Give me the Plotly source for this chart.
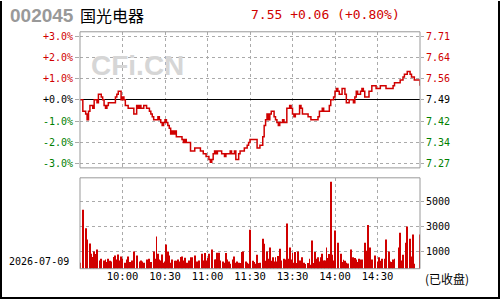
import plotly.graph_objects as go

# ---------------- data ----------------
stock_code = "002045"
stock_name = "国光电器"
trade_date = "2026-07-09"
status_text = "(已收盘)"
prev_close = 7.49
last_price = 7.55
change = 0.06
change_pct = 0.80

# minutes since 09:30 open (lunch break removed: 120 = 11:30/13:00, 240 = 15:00)
price_minutes = [0, 1, 2, 4, 5, 6, 7, 8, 9, 10, 11, 12, 13, 14, 15, 16, 17, 18, 19, 20,
                 21, 23, 25, 26, 27, 28, 29, 30, 31, 32, 33, 34, 35, 37, 38, 39, 40, 41, 42, 43,
                 44, 45, 46, 47, 48, 49, 50, 51, 52, 54, 55, 56, 57, 58, 59, 60, 61, 62, 63, 64,
                 65, 66, 67, 68, 69, 71, 72, 73, 74, 75, 76, 78, 79, 80, 81, 82, 83, 85, 86, 87,
                 89, 91, 92, 93, 94, 95, 96, 97, 99, 100, 101, 102, 103, 105, 106, 107, 108, 109, 110, 112,
                 113, 115, 116, 118, 119, 120, 121, 124, 125, 126, 127, 128, 129, 130, 131, 132, 133, 134, 135, 136,
                 137, 138, 139, 140, 141, 142, 143, 144, 145, 146, 147, 148, 149, 150, 151, 152, 153, 154, 155, 156,
                 157, 158, 159, 160, 161, 162, 163, 164, 165, 167, 168, 169, 171, 172, 175, 176, 177, 178, 179, 180,
                 181, 182, 183, 184, 185, 186, 187, 188, 189, 190, 191, 192, 193, 194, 195, 196, 197, 198, 199, 200,
                 201, 202, 203, 204, 205, 206, 207, 208, 209, 210, 212, 213, 214, 215, 216, 217, 221, 222, 224, 225,
                 226, 227, 228, 229, 230, 231, 232, 233, 234, 235, 236, 237, 239, 240]
prices = [7.49, 7.49, 7.45, 7.44, 7.42, 7.45, 7.47, 7.47, 7.46, 7.49, 7.49, 7.48, 7.51, 7.51, 7.50, 7.49, 7.47, 7.46, 7.47, 7.48,
          7.48, 7.48, 7.50, 7.51, 7.52, 7.52, 7.49, 7.50, 7.49, 7.47, 7.47, 7.46, 7.46, 7.46, 7.44, 7.44, 7.47, 7.46, 7.47, 7.46,
          7.46, 7.47, 7.47, 7.46, 7.46, 7.45, 7.44, 7.43, 7.42, 7.42, 7.43, 7.42, 7.41, 7.40, 7.41, 7.42, 7.41, 7.40, 7.39, 7.37,
          7.38, 7.37, 7.38, 7.36, 7.36, 7.36, 7.35, 7.34, 7.35, 7.34, 7.34, 7.31, 7.31, 7.31, 7.32, 7.32, 7.32, 7.31, 7.31, 7.30,
          7.29, 7.28, 7.27, 7.28, 7.30, 7.31, 7.30, 7.31, 7.31, 7.30, 7.30, 7.29, 7.30, 7.30, 7.31, 7.30, 7.30, 7.31, 7.28, 7.30,
          7.31, 7.31, 7.32, 7.33, 7.34, 7.35, 7.35, 7.35, 7.32, 7.32, 7.33, 7.33, 7.36, 7.40, 7.42, 7.44, 7.42, 7.44, 7.45, 7.45,
          7.43, 7.42, 7.41, 7.40, 7.41, 7.41, 7.42, 7.41, 7.41, 7.46, 7.46, 7.47, 7.46, 7.44, 7.43, 7.44, 7.44, 7.44, 7.47, 7.46,
          7.44, 7.44, 7.44, 7.44, 7.43, 7.43, 7.42, 7.42, 7.42, 7.42, 7.43, 7.45, 7.46, 7.45, 7.45, 7.47, 7.49, 7.49, 7.50, 7.52,
          7.53, 7.52, 7.51, 7.51, 7.53, 7.53, 7.51, 7.48, 7.48, 7.49, 7.49, 7.49, 7.48, 7.50, 7.52, 7.51, 7.51, 7.52, 7.53, 7.52,
          7.50, 7.50, 7.50, 7.52, 7.52, 7.54, 7.54, 7.54, 7.53, 7.53, 7.54, 7.54, 7.54, 7.54, 7.53, 7.53, 7.54, 7.55, 7.55, 7.55,
          7.56, 7.56, 7.57, 7.58, 7.58, 7.59, 7.59, 7.58, 7.57, 7.57, 7.56, 7.56, 7.56, 7.54, 7.54, 7.55, 7.55]

vol_minutes = [0, 2, 4, 5, 7, 8, 9, 10, 11, 12, 14, 15, 17, 18, 19, 20, 21, 22, 24, 25,
               26, 27, 28, 29, 30, 32, 33, 34, 35, 37, 38, 40, 42, 43, 44, 45, 47, 48, 49, 50,
               52, 53, 54, 55, 56, 57, 58, 59, 60, 61, 62, 63, 64, 65, 67, 68, 69, 70, 71, 72,
               73, 74, 75, 76, 77, 78, 79, 81, 82, 83, 84, 86, 87, 88, 89, 90, 91, 93, 95, 96,
               97, 98, 99, 101, 102, 103, 104, 105, 106, 108, 109, 110, 111, 112, 113, 114, 115, 117, 118, 119,
               120, 122, 123, 124, 125, 126, 127, 129, 130, 131, 132, 133, 134, 135, 136, 137, 138, 139, 140, 141,
               142, 144, 145, 146, 147, 148, 149, 150, 151, 152, 153, 154, 155, 157, 158, 159, 161, 162, 163, 164,
               165, 166, 167, 168, 169, 170, 171, 172, 173, 174, 175, 176, 177, 178, 179, 180, 182, 184, 185, 186,
               187, 188, 189, 191, 192, 193, 194, 195, 196, 197, 198, 199, 201, 202, 203, 205, 206, 208, 210, 211,
               212, 213, 215, 216, 218, 219, 220, 221, 222, 225, 226, 227, 228, 230, 231, 233, 234, 235, 236, 240]
volumes = [474, 4690, 3215, 2319, 2003, 1186, 922, 1370, 1159, 1528, 659, 790, 659, 740, 527, 790, 630, 580, 920, 1050,
           740, 1130, 660, 975, 790, 474, 740, 975, 527, 660, 1370, 1050, 580, 660, 580, 474, 740, 474, 790, 527,
           1370, 790, 2556, 1186, 740, 660, 1130, 474, 580, 1924, 1370, 1050, 474, 740, 630, 630, 740, 580, 920, 975,
           660, 870, 474, 474, 660, 900, 900, 1050, 580, 580, 660, 1186, 660, 1240, 660, 840, 1186, 1528, 740, 740,
           1265, 1265, 660, 580, 474, 1240, 740, 580, 395, 740, 975, 474, 580, 474, 450, 1318, 1370, 580, 474, 395,
           3083, 630, 527, 395, 1107, 450, 474, 2372, 1976, 630, 1370, 790, 1686, 630, 900, 580, 900, 580, 1000, 1581,
           660, 790, 740, 3584, 790, 1686, 740, 1240, 474, 1318, 450, 1370, 660, 900, 474, 370, 450, 790, 316, 2240,
           450, 1318, 790, 900, 580, 900, 1186, 660, 660, 1686, 840, 1160, 6904, 1107, 660, 3030, 2055, 1186, 527, 711,
           630, 474, 422, 1528, 740, 900, 840, 740, 527, 790, 740, 740, 2055, 1423, 3478, 1686, 740, 1050, 580, 900,
           630, 790, 790, 2319, 1370, 580, 527, 740, 790, 1686, 2846, 660, 1107, 2055, 3346, 2372, 975, 2714, 395, 2714]

time_ticks = [30, 60, 90, 120, 150, 180, 210]
time_labels = ["10:00", "10:30", "11:00", "11:30", "13:30", "14:00", "14:30"]
pct_ticks = [3, 2, 1, 0, -1, -2, -3]
vol_tick_labels = ["1000", "3000", "5000"]

# ---------------- style ----------------
RED = "#d00000"
GREEN = "#008000"
GRID = "#aaaaaa"
FRAME = "#999999"
MONO = "DejaVu Sans Mono"


def pct_color(k):
    return RED if k > 0 else (GREEN if k < 0 else "#000000")


left_text = [f'<span style="color:{pct_color(k)}">{k:+.1f}%</span>' for k in pct_ticks]
right_vals = [prev_close * (1 + k / 100) for k in pct_ticks]
right_text = [f'<span style="color:{pct_color(k)}">{v:.2f}</span>' for k, v in zip(pct_ticks, right_vals)]

pr = 3.2
fig = go.Figure()
# empty trace so the percent axis subplot exists
fig.add_trace(go.Scatter(x=[None], y=[None], mode="lines", xaxis="x", yaxis="y",
                         hoverinfo="skip", showlegend=False))
fig.add_trace(go.Scatter(x=price_minutes, y=prices, mode="lines",
                         line=dict(color=RED, width=1.5, shape="hv"),
                         xaxis="x", yaxis="y2", hoverinfo="skip"))
fig.add_trace(go.Bar(x=vol_minutes, y=volumes, marker=dict(color=RED, line=dict(width=0)),
                     xaxis="x2", yaxis="y3", hoverinfo="skip"))

xd = [80 / 500, 420 / 500]
yd_price = [1 - 168 / 300, 1 - 31 / 300]
yd_vol = [1 - 269.5 / 300, 1 - 178 / 300]
vol_top = 7217
vol_tick_vals = [1368, 3368, 5368]

common_x = dict(domain=xd, range=[0, 240], tickvals=time_ticks, showgrid=True, gridcolor=GRID,
                griddash="dot", gridwidth=1, zeroline=False, showline=False)
fig.update_layout(
    width=500, height=300, margin=dict(l=0, r=0, t=0, b=0),
    paper_bgcolor="white", plot_bgcolor="white", showlegend=False, bargap=0.3,
    xaxis=dict(**common_x, anchor="y", showticklabels=False, ticks=""),
    yaxis=dict(domain=yd_price, range=[-pr, pr], tickvals=pct_ticks, ticktext=left_text,
               side="left", showgrid=True, gridcolor=GRID, griddash="dot",
               zeroline=True, zerolinecolor="#000000", zerolinewidth=1.3,
               ticks="outside", ticklen=4, tickcolor=GRID,
               tickfont=dict(family=MONO, size=10), anchor="x"),
    yaxis2=dict(overlaying="y", side="right", anchor="x", domain=yd_price,
                range=[prev_close * (1 - pr / 100), prev_close * (1 + pr / 100)],
                tickvals=right_vals, ticktext=right_text, showgrid=False, zeroline=False,
                ticks="outside", ticklen=3, tickcolor=GRID,
                tickfont=dict(family=MONO, size=10)),
    xaxis2=dict(**common_x, anchor="y3", ticktext=time_labels, ticks="",
                tickfont=dict(family=MONO, size=10.5, color="#000000")),
    yaxis3=dict(domain=yd_vol, range=[0, vol_top], anchor="x2", side="right",
                tickvals=vol_tick_vals, ticktext=vol_tick_labels, showgrid=True,
                gridcolor=GRID, griddash="dot", zeroline=False, ticks="outside",
                ticklen=3, tickcolor=GRID,
                tickfont=dict(family=MONO, size=10, color="#000000")),
)

shapes = []
for yd in (yd_price, yd_vol):
    shapes.append(dict(type="rect", xref="paper", yref="paper", x0=xd[0], x1=xd[1],
                       y0=yd[0], y1=yd[1], line=dict(color=FRAME, width=1), layer="above"))
# outer black frame (left, right, bottom)
shapes.append(dict(type="line", xref="paper", yref="paper", x0=0.002, x1=0.002, y0=0, y1=1,
                   line=dict(color="#000000", width=2)))
shapes.append(dict(type="line", xref="paper", yref="paper", x0=0.998, x1=0.998, y0=0, y1=1,
                   line=dict(color="#000000", width=2)))
shapes.append(dict(type="line", xref="paper", yref="paper", x0=0, x1=1, y0=0.0033, y1=0.0033,
                   line=dict(color="#000000", width=2)))
fig.update_layout(shapes=shapes)

ann = [
    dict(text=f"<b>{stock_code}</b>", x=8 / 500, y=1 - 15 / 300, xanchor="left", yanchor="middle",
         font=dict(family="Liberation Sans", size=19, color="#999999")),
    dict(text=stock_name, x=78 / 500, y=1 - 14 / 300, xanchor="left", yanchor="middle",
         font=dict(family="Noto Sans CJK SC", size=16, color="#000000")),
    dict(text=f"{last_price:.2f} {change:+.2f} ({change_pct:+.2f}%)", x=249 / 500, y=1 - 14 / 300,
         xanchor="left", yanchor="middle", font=dict(family=MONO, size=13, color=RED)),
    dict(text="<b>CFi.CN</b>", x=89 / 500, y=1 - 65 / 300, xanchor="left", yanchor="middle",
         font=dict(family="Liberation Sans", size=28, color="#d6d6d6")),
    dict(text=trade_date, x=7 / 500, y=1 - 262.5 / 300, xanchor="left", yanchor="middle",
         font=dict(family=MONO, size=10, color="#000000")),
    dict(text=status_text, x=423 / 500, y=1 - 279 / 300, xanchor="left", yanchor="middle",
         font=dict(family="Noto Sans CJK SC", size=12, color="#000000")),
]
for a in ann:
    a.update(xref="paper", yref="paper", showarrow=False)
fig.update_layout(annotations=ann)

fig.write_html("out.html")
